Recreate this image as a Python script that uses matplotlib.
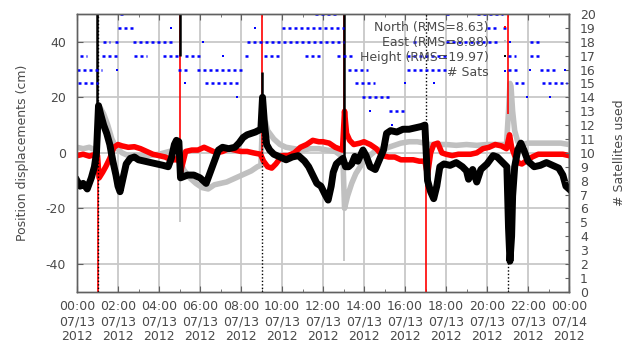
import matplotlib
matplotlib.use('Agg')
import matplotlib.pyplot as plt
from matplotlib.lines import Line2D

plt.rcParams['font.family'] = ['DejaVu Sans']
plt.rcParams['axes.unicode_minus'] = False

# ---------------- data (hours since 2012-07-13 00:00) ----------------
north_t = [0.0, 0.3, 0.6, 0.9, 1.0, 1.08, 1.25, 1.4, 1.6, 1.8, 2.0, 2.2, 2.5, 2.8, 3.1,
           3.4, 3.7, 4.0, 4.3, 4.6, 4.85, 4.97, 5.05, 5.15, 5.3, 5.6, 5.9, 6.2, 6.5, 6.8,
           7.1, 7.4, 7.7, 8.0, 8.3, 8.6, 8.95, 9.1, 9.3, 9.5, 9.7, 10.0, 10.3, 10.6, 10.9,
           11.2, 11.5, 11.8, 12.0, 12.3, 12.6, 12.95, 13.05, 13.15, 13.3, 13.5, 13.8, 14.0, 14.3, 14.6,
           14.9, 15.2, 15.5, 15.8, 16.1, 16.4, 16.7, 16.97, 17.1, 17.25, 17.4, 17.6, 17.8, 18.0, 18.3,
           18.6, 18.9, 19.2, 19.5, 19.8, 20.1, 20.4, 20.7, 20.95, 21.1, 21.2, 21.35, 21.5, 21.7, 21.9,
           22.2, 22.5, 22.8, 23.1, 23.4, 23.7, 24.0]
north_v = [-1.0, -0.5, -1.2, -0.5, -1.0, -9.0, -7.0, -5.0, -2.0, 2.0, 3.0, 2.5, 2.0, 2.2, 1.5,
           0.5, -0.5, -1.0, -1.5, -2.5, -2.5, -1.0, -7.0, -4.0, 0.5, 1.0, 1.0, 2.0, 1.0, 0.0,
           0.5, 1.5, 1.0, 0.5, 0.5, 0.0, -0.5, -3.0, -5.0, -5.5, -4.0, -1.0, -1.0, 0.0, 2.0,
           3.0, 4.5, 4.0, 4.0, 3.5, 2.0, 1.0, 15.0, 7.0, 4.5, 3.0, 3.5, 4.0, 3.0, 1.5,
           -1.0, -1.5, -1.5, -2.5, -2.5, -2.5, -3.0, -3.0, -8.0, 0.0, 3.0, 3.5, 0.0, -0.5, -1.0,
           -0.5, -0.5, -0.5, 0.0, 1.5, 2.0, 3.0, 2.5, 1.5, 6.5, 2.0, -1.0, -3.5, -4.0, -3.0,
           -1.5, -0.5, -0.5, -0.5, -0.5, -0.5, -1.0]

east_t = [0.0, 0.3, 0.6, 0.9, 0.98, 1.05, 1.15, 1.3, 1.5, 1.7, 1.9, 2.2, 2.5, 3.0, 3.5,
          4.0, 4.5, 4.8, 4.97, 5.05, 5.2, 5.5, 5.8, 6.1, 6.4, 6.7, 7.0, 7.3, 7.6, 7.9,
          8.2, 8.5, 8.8, 8.97, 9.05, 9.2, 9.3, 9.6, 9.9, 10.2, 10.6, 11.0, 11.4, 11.8, 12.2,
          12.6, 12.97, 13.05, 13.2, 13.4, 13.6, 13.9, 14.2, 14.6, 15.0, 15.4, 15.8, 16.2, 16.6, 16.97,
          17.2, 17.6, 18.0, 18.5, 19.0, 19.5, 20.0, 20.5, 20.95, 21.05, 21.12, 21.17, 21.25, 21.35, 21.5,
          21.7, 22.0, 22.4, 22.8, 23.2, 23.6, 24.0]
east_v = [2.0, 1.5, 2.0, 1.0, 3.0, 13.0, 16.0, 14.0, 10.0, 5.0, 2.0, 0.0, -1.0, -1.0, -1.0,
          -0.5, 0.5, 1.0, 0.0, -3.0, -6.0, -9.0, -11.0, -12.5, -13.0, -11.5, -11.0, -10.5, -9.5, -8.5,
          -7.5, -6.5, -5.0, -4.5, 12.0, 11.0, 8.0, 5.0, 3.0, 2.0, 1.5, 1.0, 1.5, 1.5, 1.0,
          0.5, -1.5, -20.0, -15.5, -11.0, -7.5, -4.0, -1.5, 1.0, 1.5, 2.5, 3.5, 4.0, 4.0, 3.5,
          3.0, 3.0, 3.0, 2.7, 3.0, 2.7, 3.0, 3.0, 3.0, 15.0, 25.0, 24.0, 15.0, 8.0, 4.0,
          3.0, 3.5, 3.5, 3.5, 3.5, 3.5, 3.0]

height_t = [0.0, 0.15, 0.3, 0.5, 0.7, 0.85, 0.95, 1.05, 1.15, 1.3, 1.45, 1.6, 1.75, 1.9, 2.0,
            2.1, 2.25, 2.4, 2.6, 2.8, 3.0, 3.3, 3.6, 3.9, 4.2, 4.45, 4.6, 4.75, 4.85, 4.97,
            5.05, 5.4, 5.7, 6.0, 6.3, 6.5, 6.7, 6.9, 7.1, 7.4, 7.7, 7.9, 8.1, 8.3, 8.5,
            8.7, 8.97, 9.05, 9.15, 9.25, 9.4, 9.6, 9.9, 10.2, 10.5, 10.8, 11.1, 11.3, 11.5, 11.7,
            11.9, 12.1, 12.25, 12.4, 12.5, 12.65, 12.8, 12.97, 13.1, 13.25, 13.4, 13.55, 13.7, 13.95, 14.1,
            14.3, 14.55, 14.75, 14.95, 15.1, 15.3, 15.6, 15.9, 16.2, 16.5, 16.8, 16.97, 17.1, 17.25, 17.4,
            17.55, 17.7, 17.9, 18.2, 18.5, 18.8, 19.0, 19.1, 19.3, 19.5, 19.7, 20.0, 20.3, 20.5, 20.7,
            20.97, 21.05, 21.12, 21.2, 21.25, 21.35, 21.5, 21.65, 21.8, 22.0, 22.3, 22.6, 22.9, 23.2, 23.5,
            23.7, 23.85, 24.0]
height_v = [-10.0, -12.0, -11.0, -13.0, -9.0, -5.0, 0.0, 17.0, 14.0, 10.0, 7.0, 3.0, -3.0, -8.0, -12.0,
            -14.0, -9.0, -4.0, -2.0, -1.5, -2.5, -3.0, -3.5, -4.0, -4.5, -5.0, -2.0, 3.0, 4.5, 4.0,
            -9.0, -8.0, -8.0, -9.0, -11.0, -7.0, -3.0, 1.0, 2.0, 1.5, 2.0, 3.5, 5.5, 6.5, 7.0,
            7.5, 8.5, 20.0, 10.0, 3.0, 1.0, -0.5, -1.5, -2.5, -1.5, -1.0, -3.0, -5.0, -8.0, -11.0,
            -12.0, -15.0, -17.0, -12.0, -7.0, -4.0, -3.0, -2.0, -5.0, -5.0, -4.0, -1.3, -3.0, 1.0, -1.0,
            -5.0, -6.0, -2.5, 1.0, 7.0, 8.0, 7.5, 8.5, 8.5, 9.0, 9.5, 10.0, -10.0, -14.0, -16.5,
            -12.0, -5.0, -4.0, -4.5, -3.5, -5.0, -6.5, -9.5, -6.0, -10.5, -6.0, -4.0, -1.0, -1.5, -3.0,
            -5.0, -27.0, -39.0, -30.0, -15.5, -5.0, 1.0, 3.5, 1.0, -3.0, -5.0, -4.5, -3.5, -4.5, -5.5,
            -8.0, -12.0, -13.0]

# jumps at the receiver resets (vertical strokes)
north_jump_t = [1.02, 5.0, 9.0, 13.0, 17.0, 21.0]
north_jump_lo = [-50, -1, 0, 1, -50, 14]
north_jump_hi = [-1, 50, 50, 50, -3, 50]
east_jump_t = [5.0, 13.02]
east_jump_lo = [-25, -39]
east_jump_hi = [0, -2]
height_jump_t = [0.98, 5.0, 9.0, 13.0]
height_jump_lo = [0, 35, 8, -5]
height_jump_hi = [50, 50, 29, 50]
height_drop_t = [1.01, 9.02, 17.0, 21.0]
height_drop_lo = [-50, -50, -12, -50]
height_drop_hi = [50, 8, 50, -5]

# number of satellites: level, start hour, end hour
sat_level = [20, 20, 20, 20,
             19, 19, 19, 19, 19, 19,
             18, 18, 18, 18, 18, 18, 18, 18, 18,
             17, 17, 17, 17, 17, 17, 17, 17, 17, 17, 17, 17, 17,
             16, 16, 16, 16, 16, 16, 16, 16, 16, 16,
             15, 15, 15, 15, 15, 15, 15, 15,
             14, 14, 14, 14, 14,
             13, 13, 12]
sat_start = [2.1, 11.6, 18.0, 19.5,
             2.0, 4.6, 8.7, 10.0, 20.0, 20.8,
             1.27, 1.85, 2.75, 6.15, 8.3, 16.4, 18.0, 21.1, 22.1,
             0.15, 1.2, 2.8, 4.2, 5.27, 7.1, 8.2, 9.1, 11.1, 12.7, 16.1, 21.0, 22.1,
             0.0, 1.95, 4.95, 5.85, 13.2, 16.1, 21.0, 22.1, 22.6, 23.8,
             0.05, 5.27, 6.25, 13.55, 16.0, 17.4, 21.35, 22.7,
             0.0, 7.8, 13.9, 21.95, 23.07,
             14.3, 15.2, 15.35]
sat_end = [2.35, 12.7, 18.2, 20.8,
           2.8, 4.6, 8.7, 13.0, 20.6, 21.0,
           1.6, 2.1, 4.7, 6.15, 13.0, 16.7, 20.6, 21.1, 22.7,
           0.5, 1.95, 3.4, 5.0, 6.15, 7.1, 8.4, 9.9, 11.85, 13.55, 18.0, 21.4, 22.6,
           1.2, 1.95, 5.5, 8.2, 14.2, 18.0, 21.6, 22.1, 23.4, 23.8,
           1.0, 5.27, 8.0, 14.55, 16.0, 17.4, 21.95, 23.9,
           0.0, 7.8, 15.3, 21.95, 23.07,
           14.3, 16.0, 15.35]

x_ticks = [0, 2, 4, 6, 8, 10, 12, 14, 16, 18, 20, 22, 24]
x_tick_labels = ["00:00\n07/13\n2012", "02:00\n07/13\n2012", "04:00\n07/13\n2012",
                 "06:00\n07/13\n2012", "08:00\n07/13\n2012", "10:00\n07/13\n2012",
                 "12:00\n07/13\n2012", "14:00\n07/13\n2012", "16:00\n07/13\n2012",
                 "18:00\n07/13\n2012", "20:00\n07/13\n2012", "22:00\n07/13\n2012",
                 "00:00\n07/14\n2012"]
y_ticks = [-40, -20, 0, 20, 40]
sat_ticks = list(range(0, 21))
labels = ["North (RMS=8.63)", "East (RMS=8.88)", "Height (RMS=19.97)", "# Sats"]

# ---------------- figure ----------------
TXT = '#4a4a4a'
FRAME = '#606060'
RED, GRAY, BLACK, BLUE = '#ff0000', '#c0c0c0', '#000000', '#0000ff'

fig = plt.figure(figsize=(6.33, 3.45), dpi=100)
ax = fig.add_axes([77 / 633, 1 - 291.7 / 345, 492 / 633, 277.7 / 345])
ax.set_xlim(0, 24)
ax.set_ylim(-50, 50)
ax.set_axisbelow(True)
ax.grid(True, color='#c8c8c8', lw=1.3)

ax.plot(east_t, east_v, color=GRAY, lw=4.0, solid_joinstyle='round', zorder=2)
ax.vlines(east_jump_t, east_jump_lo, east_jump_hi, color=GRAY, lw=1.2, zorder=2)
ax.plot(north_t, north_v, color=RED, lw=4.0, solid_joinstyle='round', zorder=3)
ax.vlines(north_jump_t, north_jump_lo, north_jump_hi, color=RED, lw=1.2, zorder=3)
ax.plot(height_t, height_v, color=BLACK, lw=5.0, solid_joinstyle='round', zorder=4)
ax.vlines(height_jump_t, height_jump_lo, height_jump_hi, color=BLACK, lw=1.8, zorder=4)
ax.vlines(height_drop_t, height_drop_lo, height_drop_hi, color=BLACK, lw=1.0,
          linestyles=(0, (1, 1.5)), zorder=4)

ax.set_xticks(x_ticks)
ax.set_xticklabels(x_tick_labels)
ax.set_xticks(range(1, 24, 2), minor=True)
ax.set_yticks(y_ticks)
ax.set_yticklabels([str(v) for v in y_ticks])
ax.tick_params(axis='x', which='both', direction='in', top=True, color=FRAME,
               labelsize=9, labelcolor=TXT, pad=6, length=4)
ax.tick_params(axis='x', which='minor', length=2.5)
ax.tick_params(axis='y', direction='in', color=FRAME, labelsize=9, labelcolor=TXT,
               pad=8, length=4)
for s in ax.spines.values():
    s.set_color(FRAME)
    s.set_linewidth(1.0)
ax.set_ylabel('Position displacements (cm)', fontsize=9, color=TXT, labelpad=12)

ax2 = ax.twinx()
ax2.set_ylim(0, 20)
ax2.set_yticks(sat_ticks)
ax2.tick_params(axis='y', direction='in', color=FRAME, labelsize=9, labelcolor=TXT,
                pad=8, length=3)
for s in ax2.spines.values():
    s.set_color(FRAME)
    s.set_linewidth(1.0)
for lev, s0, s1 in zip(sat_level, sat_start, sat_end):
    if s1 > s0:
        ax2.hlines(lev, s0, s1, color=BLUE, lw=1.8, linestyles=(0, (1.2, 1.2)))
    else:
        ax2.plot([s0], [lev], ls='none', marker='s', ms=2, mew=0, color=BLUE)
ax2.set_ylabel('# Satellites used', fontsize=9, color=TXT, labelpad=12)

handles = [Line2D([], [], ls='none', marker='s', ms=2, mew=0, color=c)
           for c in (RED, GRAY, BLACK, BLUE)]
ax2.legend(handles, labels, loc='upper right', bbox_to_anchor=(0.895, 0.975),
           frameon=False, markerfirst=False, handlelength=2.0, handletextpad=0.3,
           labelspacing=0.15, borderpad=0, borderaxespad=0, fontsize=9,
           labelcolor=TXT)

fig.savefig('out.png', dpi=100)
